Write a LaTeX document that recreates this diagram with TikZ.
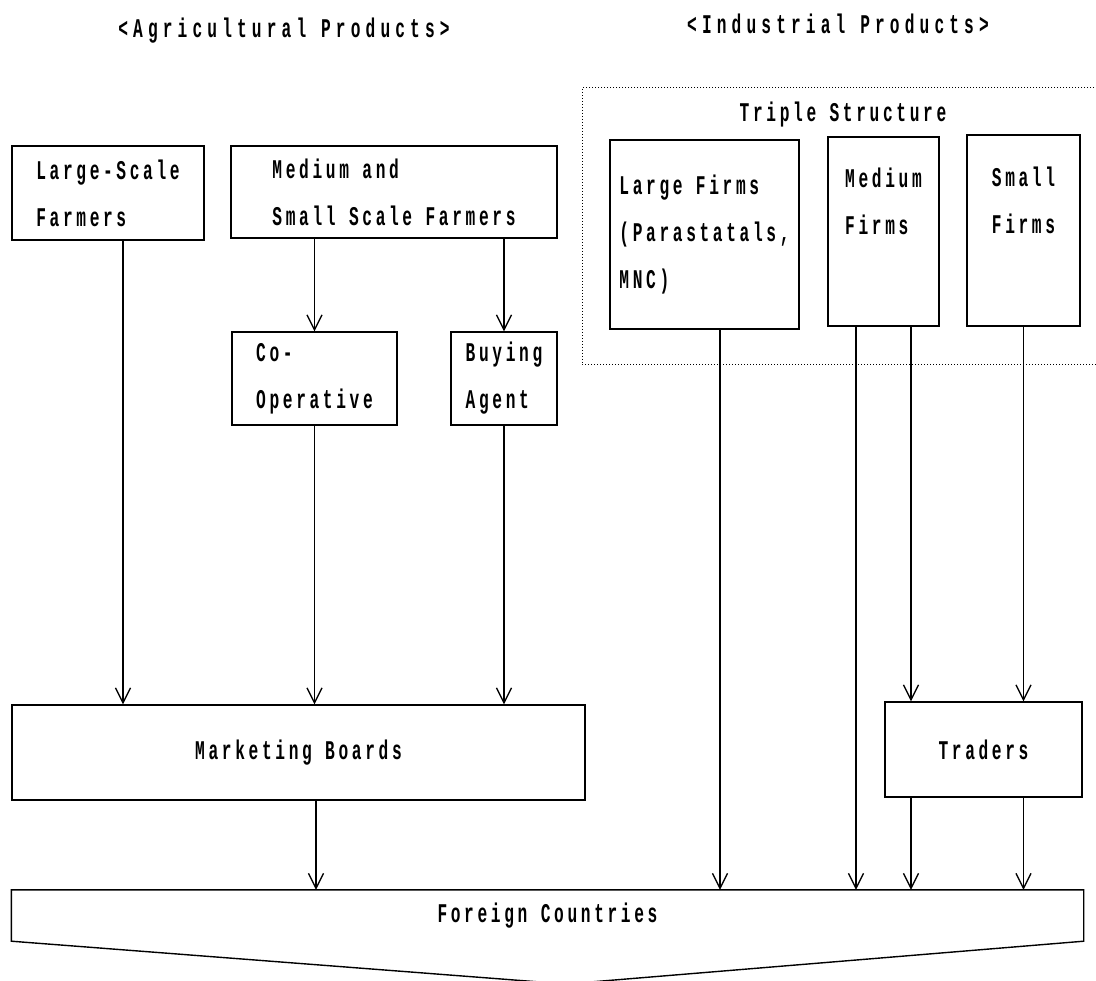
\documentclass[tikz,border=0pt]{standalone}
\usepackage{fontspec}
\newfontfamily\chartfont[FakeStretch=0.6,LetterSpace=13.5]{Liberation Mono}
\usetikzlibrary{arrows.meta}

\begin{document}
\begin{tikzpicture}[
    x=1pt, y=-1pt, line width=1.4pt,
    font=\chartfont\bfseries\fontsize{27}{47}\selectfont,
    flow/.style={-{Straight Barb[length=15pt,width=15pt]}, line width=1.3pt},
    block/.style={draw, rectangle, inner sep=0pt, align=left},
    title/.style={inner sep=0pt, font=\chartfont\bfseries\fontsize{27}{47}\selectfont\addfontfeature{LetterSpace=19}}
]
    \useasboundingbox (0,0) rectangle (1096,981);

    % Titles
    \node[title] (agri) at (284,31) {<Agricultural Products>};
    \node[title] (indu) at (838,24) {<Industrial Products>};
    \node[inner sep=0pt] (triple) at (843,115) {Triple Structure};
    \draw[dotted, line width=1pt] (1100,88) -- (582,88) -- (582,365) -- (1100,365);

    % Nodes (agricultural side)
    \node[block, minimum width=192, minimum height=94] (LSF) at (108,193) {Large-Scale\\Farmers};
    \node[block, minimum width=326, minimum height=92] (MSF) at (394,192) {Medium and\\Small Scale Farmers};
    \node[block, minimum width=165, minimum height=93] (COOP) at (314.5,378.5) {Co-\\Operative};
    \node[block, minimum width=106, minimum height=93] (BUY) at (504,378.5) {Buying\\Agent};
    \node[block, minimum width=573, minimum height=95, align=center] (MB) at (298.5,752.5) {Marketing Boards};

    % Nodes (industrial side)
    \node[block, minimum width=189, minimum height=189] (LF) at (704.5,234.5) {Large Firms\\(Parastatals,\\ MNC)};
    \node[block, minimum width=111, minimum height=189] (MF) at (883.5,231.5) {Medium\\Firms\\ \strut};
    \node[block, minimum width=113, minimum height=191] (SF) at (1023.5,230.5) {Small\\Firms\\ \strut};
    \node[block, minimum width=197, minimum height=95, align=center] (TR) at (983.5,749.5) {Traders};

    % Foreign Countries
    \node[inner sep=0pt, minimum width=1071, minimum height=50] (FC) at (547.5,915.5) {Foreign Countries};
    \coordinate (tip) at (566,984);
    \draw (FC.north west) -- (FC.north east) -- (FC.south east) -- (tip) -- (FC.south west) -- cycle;

    % Arrows
    \draw[flow] (MSF.south -| COOP.north) -- (COOP.north);
    \draw[flow] (MSF.south -| BUY.north) -- (BUY.north);
    \draw[flow] ([xshift=15]LSF.south) -- ([xshift=15]LSF.south |- MB.north);
    \draw[flow] (COOP.south) -- (COOP.south |- MB.north);
    \draw[flow] (BUY.south) -- (BUY.south |- MB.north);
    \draw[flow] ([xshift=17.5]MB.south) -- ([xshift=17.5]MB.south |- FC.north);

    \draw[flow] ([xshift=15.5]LF.south) -- ([xshift=15.5]LF.south |- FC.north);
    \draw[flow] ([xshift=-27.5]MF.south) -- ([xshift=-27.5]MF.south |- FC.north);
    \draw[flow] ([xshift=27.5]MF.south) -- ([xshift=27.5]MF.south |- TR.north);
    \draw[flow] (SF.south) -- (SF.south |- TR.north);
    \draw[flow] ([xshift=27.5]MF.south |- TR.south) -- ([xshift=27.5]MF.south |- FC.north);
    \draw[flow] (SF.south |- TR.south) -- (SF.south |- FC.north);

\end{tikzpicture}
\end{document}
